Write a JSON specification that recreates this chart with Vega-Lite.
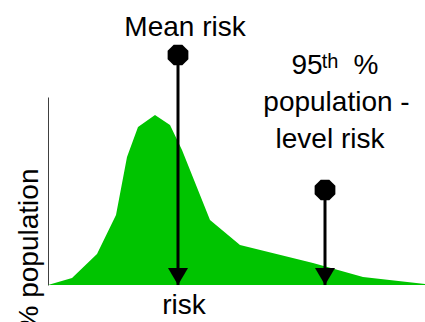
{
  "$schema": "https://vega.github.io/schema/vega-lite/v6.json",
  "autosize": {"type": "none"},
  "padding": {"left": 48, "top": 97, "right": 0, "bottom": 37},
  "width": 377,
  "height": 188,
  "background": "white",
  "view": {"stroke": null},
  "config": {"font": "Liberation Sans"},
  "datasets": {
    "curve": [
      {"risk": 0, "population": 0},
      {"risk": 24, "population": 7},
      {"risk": 49, "population": 31},
      {"risk": 68, "population": 70},
      {"risk": 79, "population": 128},
      {"risk": 90, "population": 158},
      {"risk": 107, "population": 170},
      {"risk": 122, "population": 160},
      {"risk": 134, "population": 135},
      {"risk": 162, "population": 65},
      {"risk": 192, "population": 40},
      {"risk": 265, "population": 22},
      {"risk": 315, "population": 8},
      {"risk": 377, "population": 1}
    ],
    "markers": [
      {"name": "Mean risk", "risk": 130, "top": 230},
      {"name": "95th percentile", "risk": 277, "top": 95}
    ],
    "labels": [
      {"text": "Mean risk", "risk": 137, "population": 249},
      {"text": "95", "risk": 259, "population": 211},
      {"text": "%", "risk": 318, "population": 211},
      {"text": "population  -", "risk": 288.5, "population": 174},
      {"text": "level risk", "risk": 282, "population": 137}
    ],
    "sup": [
      {"text": "th", "risk": 282, "population": 217}
    ]
  },
  "layer": [
    {
      "data": {"name": "curve"},
      "mark": {"type": "area", "color": "#00c400", "opacity": 1},
      "encoding": {
        "x": {
          "field": "risk", "type": "quantitative",
          "scale": {"domain": [0, 377], "nice": false, "zero": true},
          "axis": {
            "domain": false, "ticks": false, "labels": false, "grid": false,
            "title": "risk", "titleFontSize": 28, "titleFontWeight": "normal",
            "titleColor": "black", "titleFont": "Liberation Sans",
            "titleX": 135.5, "titleY": 28, "titleBaseline": "alphabetic", "titleAlign": "center"
          }
        },
        "y": {
          "field": "population", "type": "quantitative",
          "scale": {"domain": [0, 188], "nice": false, "zero": true},
          "axis": {
            "domain": true, "domainColor": "#404040", "domainWidth": 1,
            "ticks": false, "labels": false, "grid": false,
            "title": "% population", "titleFontSize": 28, "titleFontWeight": "normal",
            "titleColor": "black", "titleFont": "Liberation Sans",
            "titleAngle": 270, "titleX": -11, "titleY": 152,
            "titleBaseline": "alphabetic", "titleAlign": "center"
          }
        }
      }
    },
    {
      "data": {"name": "markers"},
      "mark": {"type": "rule", "color": "black", "strokeWidth": 3},
      "encoding": {
        "x": {"field": "risk", "type": "quantitative"},
        "y": {"field": "top", "type": "quantitative"},
        "y2": {"datum": 0}
      }
    },
    {
      "data": {"name": "markers"},
      "mark": {
        "type": "point", "filled": true, "color": "black", "opacity": 1, "size": 430,
        "shape": "M -0.414,-1 L 0.414,-1 L 1,-0.414 L 1,0.414 L 0.414,1 L -0.414,1 L -1,0.414 L -1,-0.414 Z"
      },
      "encoding": {
        "x": {"field": "risk", "type": "quantitative"},
        "y": {"field": "top", "type": "quantitative"}
      }
    },
    {
      "data": {"name": "markers"},
      "mark": {
        "type": "point", "filled": true, "color": "black", "opacity": 1, "size": 400,
        "shape": "M -1,-1.7 L 1,-1.7 L 0,0 Z"
      },
      "encoding": {
        "x": {"field": "risk", "type": "quantitative"},
        "y": {"datum": 0, "type": "quantitative"}
      }
    },
    {
      "data": {"name": "labels"},
      "mark": {"type": "text", "fontSize": 28, "font": "Liberation Sans", "color": "black", "align": "center", "baseline": "alphabetic"},
      "encoding": {
        "x": {"field": "risk", "type": "quantitative"},
        "y": {"field": "population", "type": "quantitative"},
        "text": {"field": "text"}
      }
    },
    {
      "data": {"name": "sup"},
      "mark": {"type": "text", "fontSize": 20, "font": "Liberation Sans", "color": "black", "align": "center", "baseline": "alphabetic"},
      "encoding": {
        "x": {"field": "risk", "type": "quantitative"},
        "y": {"field": "population", "type": "quantitative"},
        "text": {"field": "text"}
      }
    }
  ]
}
